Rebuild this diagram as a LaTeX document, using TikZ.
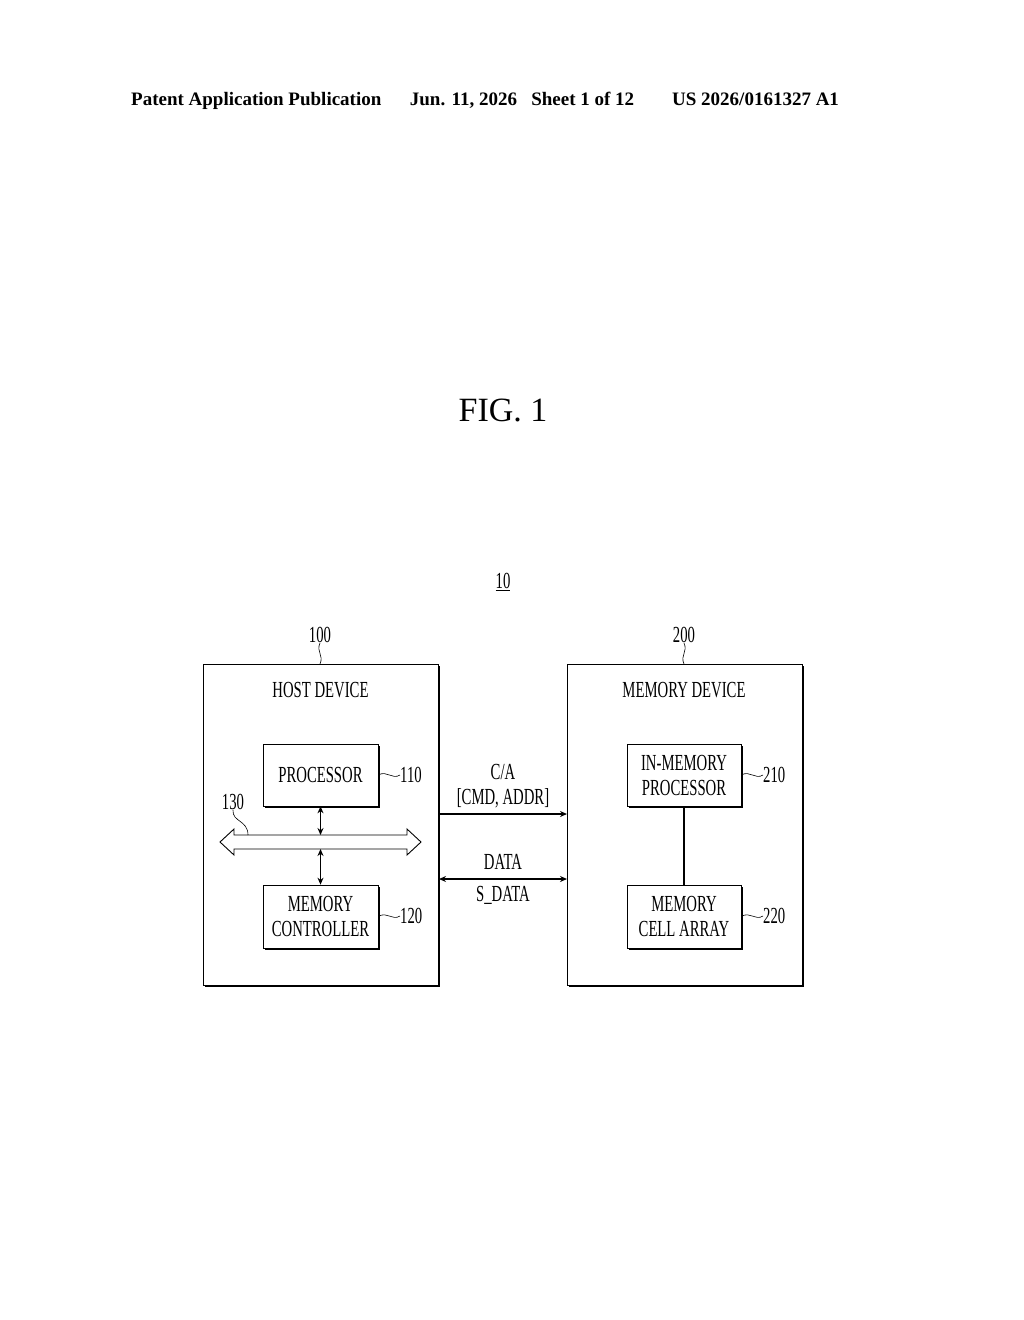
\documentclass[tikz,border=0pt]{standalone}
\usepackage{fontspec}
\setmainfont{Liberation Serif}
\newfontfamily\narrow[FakeStretch=0.64]{Liberation Serif}
\usetikzlibrary{arrows.meta}
\begin{document}
\begin{tikzpicture}[x=1pt,y=-1pt,
  box/.style={draw,line width=0.7pt},
  lbl/.style={font=\narrow\fontsize{23}{24}\selectfont,align=center,inner sep=0},
  arr/.style={line width=1.2pt,{Stealth[length=7pt,width=6pt]}-{Stealth[length=7pt,width=6pt]}}]
\useasboundingbox (0,0) rectangle (1024,1320);
\node[font=\bfseries\fontsize{19}{21}\selectfont,anchor=west,inner sep=0] (hdr) at (131,101) {Patent Application Publication\hspace{1.5em}Jun. 11, 2026\hspace{0.5em} Sheet 1 of 12\hspace{2em}US 2026/0161327 A1};
\node[font=\fontsize{34}{36}\selectfont,inner sep=0] (fig) at (503,410) {FIG. 1};
\node[lbl] (ten) at (503,582) {\underline{10}};
% shadows
\foreach \a/\b/\c/\d in {203/664/438/985,567/664/802/985,263/744/378/806,263/885/378/948,627/744/741/806,627/885/741/948}{
  \draw[line width=1.6pt] (\c+1.5,\b+2)--(\c+1.5,\d+1.5)--(\a+2,\d+1.5);}
\draw[box] (203,664) rectangle (438,985);
\draw[box] (567,664) rectangle (802,985);
\node[box,minimum width=115pt,minimum height=62pt,lbl] (proc) at (320.5,775) {PROCESSOR};
\node[box,minimum width=115pt,minimum height=63pt,lbl] (mc) at (320.5,916.5) {MEMORY\\[1pt]CONTROLLER};
\node[box,minimum width=114pt,minimum height=62pt,lbl] (imp) at (684,775) {IN-MEMORY\\[1pt]PROCESSOR};
\node[box,minimum width=114pt,minimum height=63pt,lbl] (mca) at (684,916.5) {MEMORY\\[1pt]CELL ARRAY};
\node[lbl] (hd) at (320.5,690) {HOST DEVICE};
\node[lbl] (md) at (684,690) {MEMORY DEVICE};
% bus
\draw[line width=0.9pt,fill=white] (220,842)--(234,829)--(234,835)--(407,835)--(407,829)--(421,842)--(407,855)--(407,849)--(234,849)--(234,855)--cycle;
\coordinate (bt) at (320.5,835); \coordinate (bb) at (320.5,849);
\draw[arr] (proc.south) -- (bt);
\draw[arr] (bb) -- (mc.north);
\draw[line width=1.2pt] (imp.south) -- (mca.north);
% links
\coordinate (ca1) at (439,814); \coordinate (ca2) at (567,814);
\draw[line width=1.2pt,-{Stealth[length=7pt,width=6pt]}] (ca1) -- (ca2);
\coordinate (d1) at (439,879); \coordinate (d2) at (567,879);
\draw[arr] (d1) -- (d2);
\node[lbl] (cal) at (503,786) {C/A\\[1pt][CMD, ADDR]};
\node[lbl] (dl) at (503,862) {DATA};
\node[lbl] (sdl) at (503,895) {S\_DATA};
% refs
\node[lbl] (r100) at (320,635) {100};
\draw[line width=0.6pt] (r100.south) .. controls (316,652) and (324,655) .. (320,664);
\node[lbl] (r200) at (684,635) {200};
\draw[line width=0.6pt] (r200.south) .. controls (688,652) and (680,655) .. (684,664);
\node[lbl,anchor=west] (r110) at (400,775) {110};
\draw[line width=0.6pt] (proc.east) .. controls (387,770) and (392,780) .. (r110.west);
\node[lbl,anchor=west] (r120) at (400,916) {120};
\draw[line width=0.6pt] (mc.east) .. controls (387,911) and (392,921) .. (r120.west);
\node[lbl,anchor=west] (r210) at (763,775) {210};
\draw[line width=0.6pt] (imp.east) .. controls (750,770) and (755,780) .. (r210.west);
\node[lbl,anchor=west] (r220) at (763,916) {220};
\draw[line width=0.6pt] (mca.east) .. controls (750,911) and (755,921) .. (r220.west);
\node[lbl] (r130) at (233,802) {130};
\coordinate (b130) at (248,835);
\draw[line width=0.6pt] (r130.south) .. controls (232,822) and (248,820) .. (b130);
\end{tikzpicture}
\end{document}
